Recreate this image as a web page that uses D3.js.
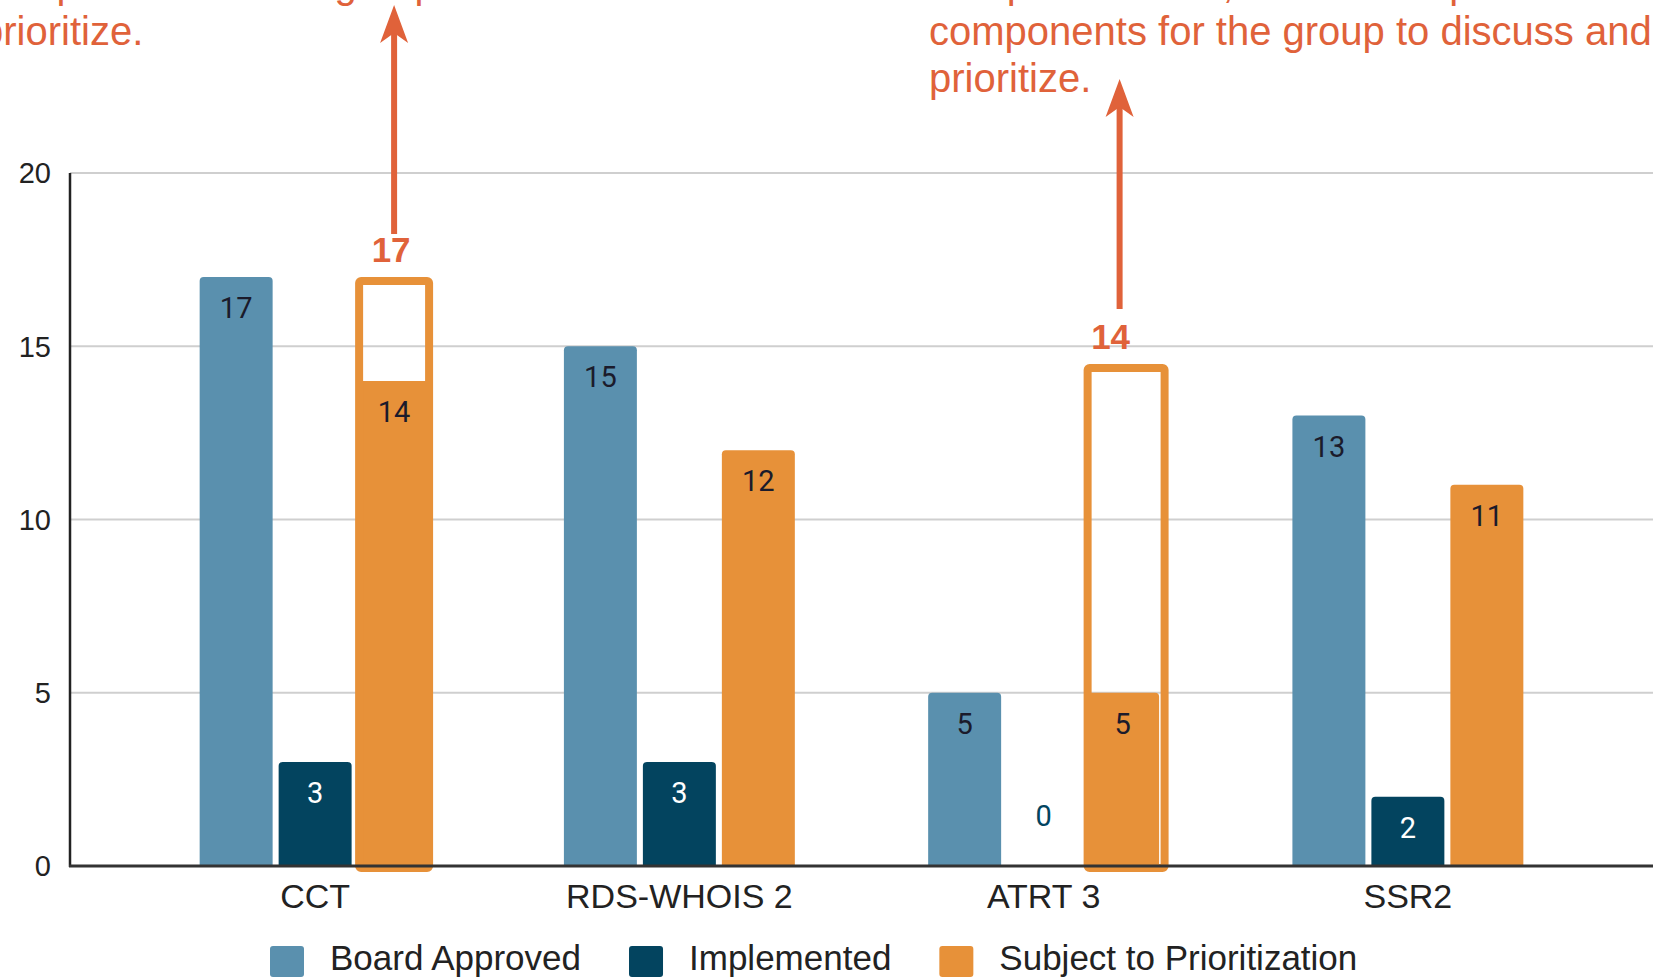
<!DOCTYPE html>
<html>
<head>
<meta charset="utf-8">
<script src="https://cdn.jsdelivr.net/npm/d3@7"></script>
<style>
  body { margin: 0; background: #fff; }
  svg { display: block; }
</style>
</head>
<body>
<div id="chart"></div>
<script>
// data
const categories = ["CCT", "RDS-WHOIS 2", "ATRT 3", "SSR2"];
const seriesNames = ["Board Approved", "Implemented", "Subject to Prioritization"];
const boardApproved = [17, 15, 5, 13];
const implemented = [3, 3, 0, 2];
const prioritization = [14, 12, 5, 11];
const yTicks = [0, 5, 10, 15, 20];

// annotations drawn over the orange bars
const annotCategories = ["CCT", "ATRT 3"];
const annotTotals = [17, 14];

const leftNote = ["components for the group to discuss and", "prioritize."];
const rightNote = ["and prioritization, the Board split them into",
                   "components for the group to discuss and", "prioritize."];

const width = 1656, height = 978;
const colors = ["#5a90ae", "#03445f", "#e79139"];
const accent = "#e0623a";

const svg = d3.select("#chart").append("svg")
    .attr("width", width)
    .attr("height", height);

let y = d3.scaleLinear().domain([0, 20]).range([866, 173]);

let x0 = d3.scaleBand()
    .domain(categories)
    .range([133, 1590])
    .paddingInner(0.366)
    .paddingOuter(0.183);

let x1 = d3.scaleBand()
    .domain(seriesNames)
    .range([0, x0.bandwidth()])
    .paddingInner(0.076);

// gridlines
svg.append("g").selectAll("line")
    .data(yTicks.filter(d => d > 0))
    .join("line")
    .attr("x1", 70).attr("x2", 1653)
    .attr("y1", d => y(d)).attr("y2", d => y(d))
    .attr("stroke", "#cfcfcf")
    .attr("stroke-width", 2);

// y tick labels
svg.append("g").selectAll("text")
    .data(yTicks)
    .join("text")
    .attr("x", 51)
    .attr("y", d => y(d))
    .attr("dy", "0.36em")
    .attr("text-anchor", "end")
    .attr("font-family", "Liberation Sans, Arial, sans-serif")
    .attr("font-size", 29)
    .attr("fill", "#222")
    .text(d => d);

// rows of bar data
let rows = [];
categories.forEach((c, i) => {
  [boardApproved, implemented, prioritization].forEach((arr, s) => {
    rows.push({cat: c, series: seriesNames[s], s: s, value: arr[i]});
  });
});

function topRounded(x, yTop, w, h, r) {
  if (h <= 0) return "";
  r = Math.min(r, h, w / 2);
  return `M${x},${yTop + h}V${yTop + r}Q${x},${yTop} ${x + r},${yTop}` +
         `H${x + w - r}Q${x + w},${yTop} ${x + w},${yTop + r}V${yTop + h}Z`;
}

let bars = svg.append("g");
bars.selectAll("path")
    .data(rows.filter(d => d.value > 0))
    .join("path")
    .attr("fill", d => colors[d.s])
    .attr("d", d => topRounded(x0(d.cat) + x1(d.series), y(d.value),
        x1.bandwidth(), y(0) - y(d.value), 4));

// annotation boxes (hand drawn over the chart, the ATRT one is a bit high and wide)
const boxLift = [0, 17];
const boxWiden = [0, 7];
const labelShift = [-3, -12];
let annots = annotCategories.map((c, i) => ({cat: c, total: annotTotals[i], lift: boxLift[i],
  widen: boxWiden[i], shift: labelShift[i]}));

let ag = svg.append("g");
annots.forEach(a => {
  let bx = x0(a.cat) + x1(seriesNames[2]);
  let bw = x1.bandwidth() + a.widen;
  let top = y(a.total) - a.lift;
  ag.append("rect")
      .attr("x", bx + 1.5)
      .attr("y", top + 4)
      .attr("width", bw - 3)
      .attr("height", y(0) - top - 2)
      .attr("rx", 2)
      .attr("fill", "none")
      .attr("stroke", colors[2])
      .attr("stroke-width", 8);

  let cx = bx + x1.bandwidth() / 2;
  ag.append("text")
      .attr("x", cx + a.shift)
      .attr("y", top - 15)
      .attr("text-anchor", "middle")
      .attr("font-family", "Liberation Sans, Arial, sans-serif")
      .attr("font-weight", "bold")
      .attr("font-size", 35)
      .attr("fill", accent)
      .text(a.total);
});

// value labels
svg.append("g").selectAll("text")
    .data(rows)
    .join("text")
    .attr("x", d => x0(d.cat) + x1(d.series) + x1.bandwidth() / 2)
    .attr("y", d => d.value > 0 ? y(d.value) + 41 : y(0) - 40)
    .attr("text-anchor", "middle")
    .attr("font-family", "Roboto, sans-serif")
    .attr("font-size", 29)
    .attr("fill", d => d.value === 0 ? colors[1] : (d.s === 1 ? "#fff" : "#1b1b2b"))
    .text(d => d.value);

// axes lines
svg.append("line")
    .attr("x1", 70).attr("x2", 70)
    .attr("y1", 173).attr("y2", 867)
    .attr("stroke", "#222").attr("stroke-width", 2.5);
svg.append("line")
    .attr("x1", 69).attr("x2", 1653)
    .attr("y1", y(0)).attr("y2", y(0))
    .attr("stroke", "#333").attr("stroke-width", 3);

// category labels
svg.append("g").selectAll("text")
    .data(categories)
    .join("text")
    .attr("x", d => x0(d) + x0.bandwidth() / 2)
    .attr("y", 908)
    .attr("text-anchor", "middle")
    .attr("font-family", "Liberation Sans, Arial, sans-serif")
    .attr("font-size", 34)
    .attr("fill", "#222")
    .text(d => d);

// legend
let legend = svg.append("g");
let lx = 270;
seriesNames.forEach((name, i) => {
  legend.append("rect")
      .attr("x", lx).attr("y", 946)
      .attr("width", 34).attr("height", 31)
      .attr("rx", 3)
      .attr("fill", colors[i]);
  let t = legend.append("text")
      .attr("x", lx + 60)
      .attr("y", 970)
      .attr("font-family", "Liberation Sans, Arial, sans-serif")
      .attr("font-size", 35)
      .attr("fill", "#222")
      .text(name);
  lx = lx + 60 + t.node().getComputedTextLength() + 48;
});

// notes at the top
function note(lines, x, y0) {
  let t = svg.append("text")
      .attr("font-family", "Liberation Sans, Arial, sans-serif")
      .attr("font-size", 40)
      .attr("fill", accent);
  lines.forEach((l, i) => {
    t.append("tspan").attr("x", x).attr("y", y0 + i * 47).text(l);
  });
}
note(leftNote, -19, -2);
note(rightNote, 929, -2);

// arrows
function arrow(x, yBottom, yTip) {
  svg.append("line")
      .attr("x1", x).attr("x2", x)
      .attr("y1", yBottom).attr("y2", yTip + 20)
      .attr("stroke", accent).attr("stroke-width", 6);
  svg.append("path")
      .attr("d", `M${x},${yTip}L${x + 14},${yTip + 38}L${x},${yTip + 28}L${x - 14},${yTip + 38}Z`)
      .attr("fill", accent);
}
arrow(x0("CCT") + x1(seriesNames[2]) + x1.bandwidth() / 2, 234, 5);
arrow(x0("ATRT 3") + x1(seriesNames[2]) + x1.bandwidth() / 2 - 3, 309, 79);
</script>
</body>
</html>
